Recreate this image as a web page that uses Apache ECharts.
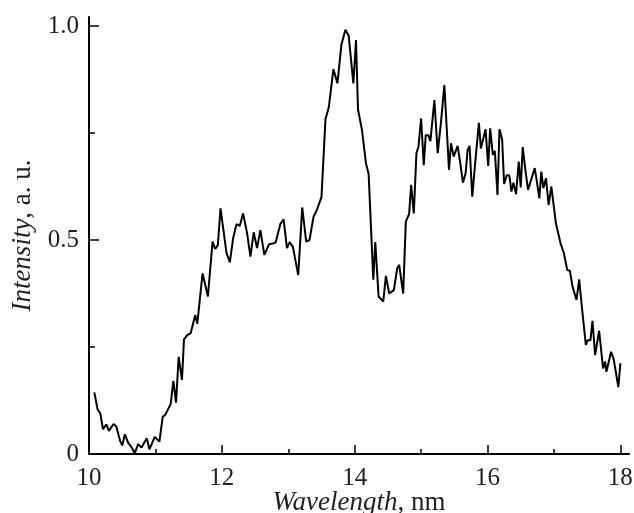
<!DOCTYPE html>
<html>
<head>
<meta charset="utf-8">
<script src="https://cdn.jsdelivr.net/npm/echarts@6/dist/echarts.min.js"></script>
<style>
  html, body { margin: 0; padding: 0; background: #fff; }
  #chart { width: 634px; height: 513px; }
</style>
</head>
<body>
<div id="chart"></div>
<script>
const FONT = "Liberation Serif";
const TEXT_COLOR = "#231f20";

const wavelength = [
	10.08, 10.13, 10.17, 10.21, 10.26, 10.30, 10.37, 10.41, 10.47, 10.50,
	10.54, 10.59, 10.64, 10.69, 10.74, 10.79, 10.82, 10.87, 10.91, 10.99,
	11.06, 11.11, 11.15, 11.23, 11.27, 11.31, 11.35, 11.40, 11.43, 11.48,
	11.53, 11.60, 11.63, 11.71, 11.79, 11.86, 11.90, 11.94, 11.98, 12.01,
	12.07, 12.12, 12.17, 12.22, 12.27, 12.32, 12.38, 12.43, 12.48, 12.53,
	12.58, 12.64, 12.71, 12.77, 12.81, 12.84, 12.88, 12.93, 12.98, 13.02,
	13.07, 13.15, 13.21, 13.27, 13.32, 13.38, 13.43, 13.50, 13.56, 13.61,
	13.68, 13.74, 13.80, 13.86, 13.91, 13.98, 14.02, 14.05, 14.11, 14.17,
	14.21, 14.28, 14.31, 14.36, 14.43, 14.47, 14.52, 14.55, 14.59, 14.64,
	14.67, 14.73, 14.77, 14.82, 14.85, 14.89, 14.93, 14.96, 15.00, 15.04,
	15.07, 15.11, 15.14, 15.20, 15.25, 15.30, 15.35, 15.42, 15.45, 15.49,
	15.52, 15.55, 15.59, 15.63, 15.67, 15.70, 15.73, 15.77, 15.81, 15.83,
	15.87, 15.90, 15.93, 15.97, 16.01, 16.04, 16.08, 16.11, 16.15, 16.18,
	16.22, 16.25, 16.29, 16.33, 16.36, 16.39, 16.43, 16.47, 16.50, 16.53,
	16.57, 16.61, 16.64, 16.71, 16.74, 16.78, 16.81, 16.84, 16.88, 16.92,
	16.96, 16.99, 17.03, 17.10, 17.15, 17.20, 17.24, 17.28, 17.34, 17.38,
	17.42, 17.48, 17.51, 17.55, 17.58, 17.62, 17.68, 17.74, 17.77, 17.79,
	17.82, 17.86, 17.90, 17.97, 18.00
];

const intensity = [
	0.144, 0.104, 0.095, 0.058, 0.069, 0.054, 0.070, 0.065, 0.030, 0.020,
	0.046, 0.026, 0.016, 0.002, 0.023, 0.015, 0.015, 0.037, 0.011, 0.040,
	0.029, 0.087, 0.092, 0.117, 0.171, 0.120, 0.227, 0.173, 0.268, 0.278,
	0.282, 0.325, 0.304, 0.422, 0.368, 0.496, 0.479, 0.488, 0.574, 0.574,
	0.470, 0.448, 0.504, 0.537, 0.533, 0.562, 0.516, 0.461, 0.518, 0.481,
	0.523, 0.465, 0.490, 0.492, 0.494, 0.491, 0.537, 0.548, 0.481, 0.495,
	0.484, 0.418, 0.576, 0.496, 0.500, 0.554, 0.570, 0.600, 0.782, 0.810,
	0.899, 0.866, 0.956, 0.991, 0.977, 0.866, 0.967, 0.805, 0.757, 0.679,
	0.654, 0.407, 0.495, 0.368, 0.356, 0.416, 0.375, 0.371, 0.383, 0.434,
	0.442, 0.375, 0.543, 0.561, 0.629, 0.562, 0.703, 0.718, 0.784, 0.675,
	0.745, 0.745, 0.731, 0.827, 0.703, 0.776, 0.862, 0.664, 0.726, 0.695,
	0.696, 0.720, 0.679, 0.634, 0.656, 0.710, 0.720, 0.601, 0.673, 0.670,
	0.774, 0.714, 0.714, 0.759, 0.673, 0.761, 0.699, 0.708, 0.605, 0.759,
	0.735, 0.631, 0.652, 0.650, 0.613, 0.634, 0.607, 0.683, 0.623, 0.717,
	0.664, 0.617, 0.617, 0.668, 0.640, 0.597, 0.660, 0.621, 0.644, 0.582,
	0.625, 0.621, 0.539, 0.492, 0.469, 0.430, 0.428, 0.391, 0.360, 0.408,
	0.344, 0.255, 0.266, 0.266, 0.311, 0.231, 0.288, 0.200, 0.216, 0.192,
	0.212, 0.239, 0.221, 0.156, 0.212
];

const xTicks = [10, 12, 14, 16, 18];
const yTicks = [0, 0.5, 1.0];

const chart = echarts.init(document.getElementById("chart"));

const points = wavelength.map((w, i) => [w, intensity[i]]);

const axisLine = { show: true, onZero: false, lineStyle: { color: "#000", width: 2 } };
const labelStyle = { color: TEXT_COLOR, fontFamily: FONT, fontSize: 25 };
const nameStyle = {
	color: TEXT_COLOR,
	fontFamily: FONT,
	fontSize: 27,
	rich: {
		i: { fontFamily: FONT, fontSize: 27, fontStyle: "italic", color: TEXT_COLOR }
	}
};

option = {
	animation: false,
	backgroundColor: "#fff",
	grid: {
		left: 89,
		right: 5,
		top: 17,
		bottom: 59,
		containLabel: false,
		outerBoundsMode: "none"
	},
	xAxis: {
		type: "value",
		min: 10,
		max: 18.13,
		interval: 2,
		name: "{i|Wavelength}, nm",
		nameLocation: "middle",
		nameGap: 35,
		nameMoveOverlap: false,
		nameTextStyle: nameStyle,
		axisLine: axisLine,
		axisTick: {
			inside: true,
			length: 9,
			customValues: xTicks,
			lineStyle: { color: "#000", width: 1.5 }
		},
		minorTick: {
			show: true,
			splitNumber: 2,
			length: 5,
			lineStyle: { color: "#000", width: 1.5 }
		},
		axisLabel: Object.assign({
			margin: 12,
			customValues: xTicks,
			formatter: v => String(v)
		}, labelStyle),
		splitLine: { show: false }
	},
	yAxis: {
		type: "value",
		min: 0,
		max: 1.021,
		interval: 0.5,
		name: "{i|Intensity}, a. u.",
		nameLocation: "middle",
		nameGap: 53,
		nameMoveOverlap: false,
		nameTextStyle: nameStyle,
		axisLine: axisLine,
		axisTick: {
			inside: true,
			length: 10,
			customValues: yTicks,
			lineStyle: { color: "#000", width: 1.5 }
		},
		minorTick: {
			show: true,
			splitNumber: 2,
			length: 6,
			lineStyle: { color: "#000", width: 1.5 }
		},
		axisLabel: Object.assign({
			margin: 10,
			customValues: yTicks,
			formatter: v => (v === 0 ? "0" : v.toFixed(1))
		}, labelStyle),
		splitLine: { show: false }
	},
	series: [{
		type: "line",
		data: points,
		showSymbol: false,
		symbol: "none",
		lineStyle: { color: "#000", width: 2 }
	}]
};

chart.setOption(option);
window.onresize = chart.resize;
</script>
</body>
</html>
